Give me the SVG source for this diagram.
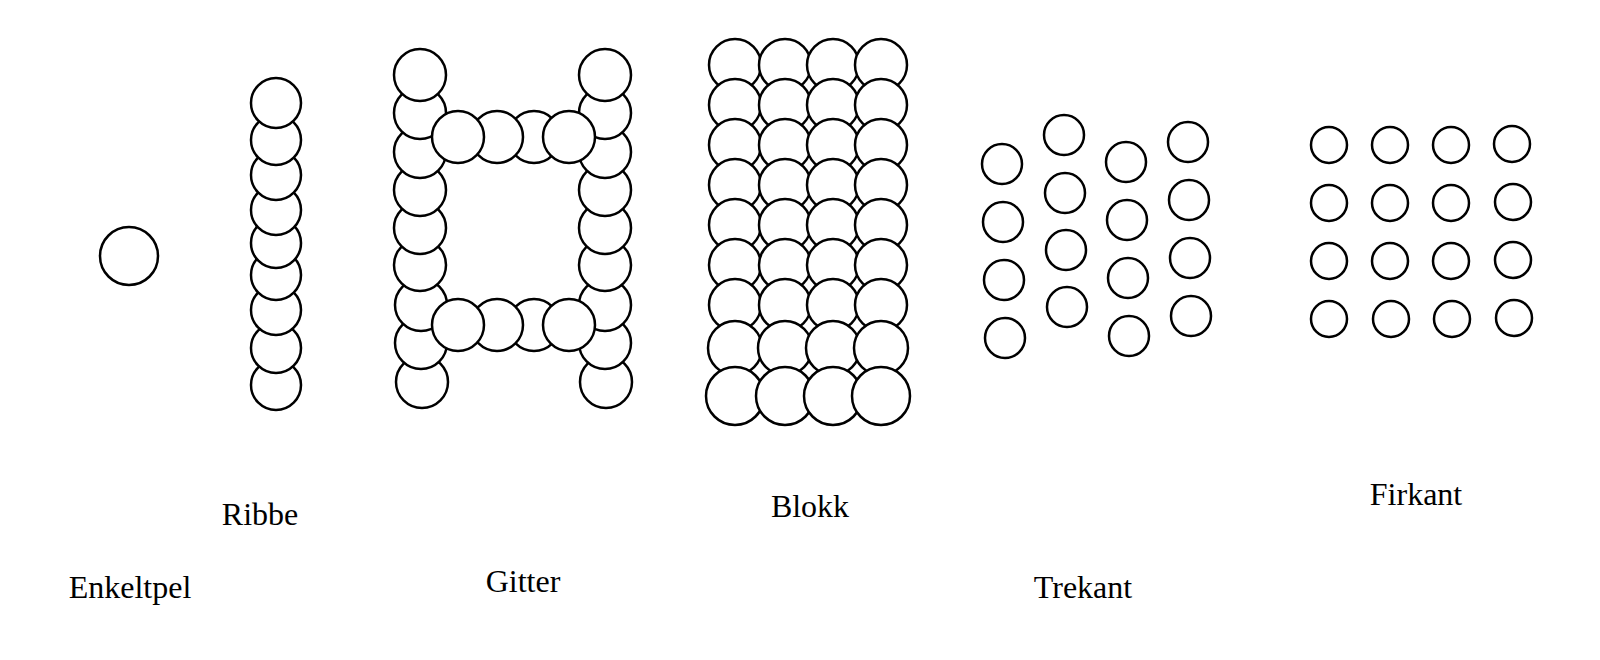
<svg xmlns="http://www.w3.org/2000/svg" xmlns:xlink="http://www.w3.org/1999/xlink" width="1600" height="660" viewBox="0 0 1600 660">
<style>
circle{fill:#fff;stroke:#000;stroke-width:2.5}
text{font-family:"Liberation Serif",serif;font-size:32px;fill:#000;text-anchor:middle}
</style>
<defs>
<g id="bcol"><circle cx="0" cy="65" r="26"/><circle cx="0" cy="105" r="26"/><circle cx="0" cy="145" r="26"/><circle cx="0" cy="185" r="26"/><circle cx="0" cy="225" r="26"/><circle cx="0" cy="265" r="26"/><circle cx="0" cy="305" r="26"/><circle cx="0" cy="348" r="27"/><circle cx="0" cy="396" r="29"/></g>
</defs>
<rect width="1600" height="660" fill="#fff"/>
<g id="enkeltpel"><circle cx="129" cy="256" r="29"/><text x="130" y="598">Enkeltpel</text></g>
<g id="ribbe">
<circle cx="276" cy="385" r="25"/><circle cx="276" cy="348" r="25"/><circle cx="276" cy="310" r="25"/><circle cx="276" cy="275" r="25"/><circle cx="276" cy="243" r="25"/><circle cx="276" cy="210" r="25"/><circle cx="276" cy="175" r="25"/><circle cx="276" cy="140" r="25"/><circle cx="276" cy="103" r="25"/>
<text x="260" y="525">Ribbe</text></g>
<g id="gitter">
<circle cx="422" cy="382" r="26"/><circle cx="421" cy="343" r="26"/><circle cx="421" cy="305" r="26"/><circle cx="420" cy="265" r="26"/><circle cx="420" cy="228" r="26"/><circle cx="420" cy="190" r="26"/><circle cx="420" cy="152" r="26"/><circle cx="420" cy="113" r="26"/><circle cx="420" cy="75" r="26"/>
<circle cx="606" cy="382" r="26"/><circle cx="605" cy="343" r="26"/><circle cx="605" cy="305" r="26"/><circle cx="605" cy="265" r="26"/><circle cx="605" cy="228" r="26"/><circle cx="605" cy="190" r="26"/><circle cx="605" cy="152" r="26"/><circle cx="605" cy="113" r="26"/><circle cx="605" cy="75" r="26"/>
<circle cx="534" cy="137" r="26"/><circle cx="497" cy="137" r="26"/><circle cx="458" cy="137" r="26"/><circle cx="569" cy="137" r="26"/>
<circle cx="534" cy="325" r="26"/><circle cx="497" cy="325" r="26"/><circle cx="458" cy="325" r="26"/><circle cx="569" cy="325" r="26"/>
<text x="523" y="592">Gitter</text></g>
<g id="blokk">
<use xlink:href="#bcol" x="735"/><use xlink:href="#bcol" x="785"/><use xlink:href="#bcol" x="833"/><use xlink:href="#bcol" x="881"/>
<text x="810" y="517">Blokk</text></g>
<g id="trekant">
<circle cx="1002" cy="164" r="20"/><circle cx="1003" cy="222" r="20"/><circle cx="1004" cy="280" r="20"/><circle cx="1005" cy="338" r="20"/>
<circle cx="1064" cy="135" r="20"/><circle cx="1065" cy="193" r="20"/><circle cx="1066" cy="250" r="20"/><circle cx="1067" cy="307" r="20"/>
<circle cx="1126" cy="162" r="20"/><circle cx="1127" cy="220" r="20"/><circle cx="1128" cy="278" r="20"/><circle cx="1129" cy="336" r="20"/>
<circle cx="1188" cy="142" r="20"/><circle cx="1189" cy="200" r="20"/><circle cx="1190" cy="258" r="20"/><circle cx="1191" cy="316" r="20"/>
<text x="1083" y="598">Trekant</text></g>
<g id="firkant">
<circle cx="1329" cy="145" r="18"/><circle cx="1390" cy="145" r="18"/><circle cx="1451" cy="145" r="18"/><circle cx="1512" cy="144" r="18"/>
<circle cx="1329" cy="203" r="18"/><circle cx="1390" cy="203" r="18"/><circle cx="1451" cy="203" r="18"/><circle cx="1513" cy="202" r="18"/>
<circle cx="1329" cy="261" r="18"/><circle cx="1390" cy="261" r="18"/><circle cx="1451" cy="261" r="18"/><circle cx="1513" cy="260" r="18"/>
<circle cx="1329" cy="319" r="18"/><circle cx="1391" cy="319" r="18"/><circle cx="1452" cy="319" r="18"/><circle cx="1514" cy="318" r="18"/>
<text x="1416" y="505">Firkant</text></g>
<g id="connectors"/>
</svg>
